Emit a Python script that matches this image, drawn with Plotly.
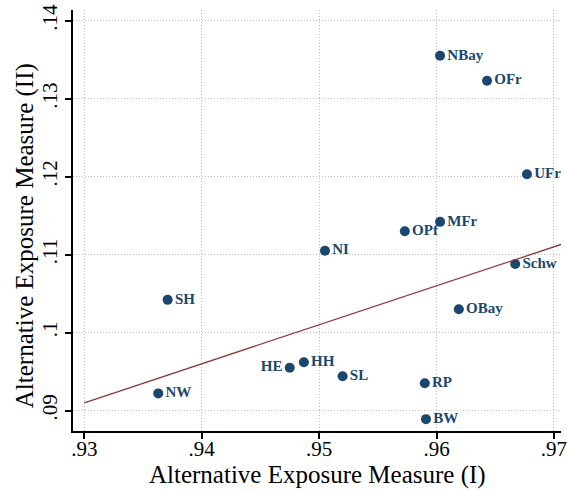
import plotly.graph_objects as go

labels = ["NBay", "OFr", "UFr", "MFr", "OPf", "NI", "Schw", "OBay",
          "HH", "HE", "SL", "RP", "BW", "SH", "NW"]
exposure_1 = [0.9603, 0.9643, 0.9677, 0.9603, 0.9573, 0.9505, 0.9667, 0.9619,
              0.9487, 0.9475, 0.9520, 0.9590, 0.9591, 0.9371, 0.9363]
exposure_2 = [0.1355, 0.1323, 0.1203, 0.1142, 0.1130, 0.1105, 0.1088, 0.1030,
              0.0962, 0.0955, 0.0944, 0.0935, 0.0889, 0.1042, 0.0922]
label_pos = ["middle right"] * 15
label_pos[labels.index("HE")] = "middle left"

fit_x = [0.93, 0.9706]
fit_y = [0.0910, 0.1113]

x_ticks = [0.93, 0.94, 0.95, 0.96, 0.97]
x_tick_text = [".93", ".94", ".95", ".96", ".97"]
y_ticks = [0.09, 0.10, 0.11, 0.12, 0.13, 0.14]
y_tick_text = [".09", ".1", ".11", ".12", ".13", ".14"]

navy = "#1a476f"
maroon = "#90353b"
serif = "Liberation Serif, Times New Roman, serif"

fig = go.Figure()
fig.add_trace(go.Scatter(
    x=exposure_1, y=exposure_2, mode="markers+text",
    text=["<b>" + t + "</b>" for t in labels], textposition=label_pos,
    textfont=dict(family=serif, size=15, color=navy),
    marker=dict(color=navy, size=10, line=dict(width=0)),
    showlegend=False, cliponaxis=False))
fig.add_trace(go.Scatter(
    x=fit_x, y=fit_y, mode="lines",
    line=dict(color=maroon, width=1.3), showlegend=False))

axis_common = dict(
    showline=True, linecolor="black", linewidth=1.5,
    ticks="outside", ticklen=6, tickwidth=1.5, tickcolor="black",
    showgrid=True, gridcolor="#bdbdbd", griddash="1px,2px", gridwidth=1,
    zeroline=False, mirror=False, automargin=False,
    ticklabeloverflow="allow",
    tickfont=dict(family=serif, size=21, color="black"),
)
fig.update_layout(
    width=567, height=491,
    margin=dict(l=73, r=6, t=10, b=60),
    plot_bgcolor="white", paper_bgcolor="white",
    xaxis=dict(range=[0.92904, 0.9706], tickvals=x_ticks, ticktext=x_tick_text,
               ticklabelstandoff=-8, **axis_common),
    yaxis=dict(range=[0.08738, 0.14137], tickvals=y_ticks, ticktext=y_tick_text,
               tickangle=-90, **axis_common),
    annotations=[
        dict(text="Alternative Exposure Measure (I)", xref="paper", yref="paper",
             x=0.5, y=-0.1045, xanchor="center", yanchor="middle", showarrow=False,
             font=dict(family=serif, size=25, color="black")),
        dict(text="Alternative Exposure Measure (II)", xref="paper", yref="paper",
             x=-0.0984, y=0.465, xanchor="center", yanchor="middle", showarrow=False,
             textangle=-90, font=dict(family=serif, size=25, color="black")),
    ],
)
fig.write_html("out.html", config={"displayModeBar": False},
               post_script="document.body.style.margin='0';document.body.style.overflow='hidden';")
